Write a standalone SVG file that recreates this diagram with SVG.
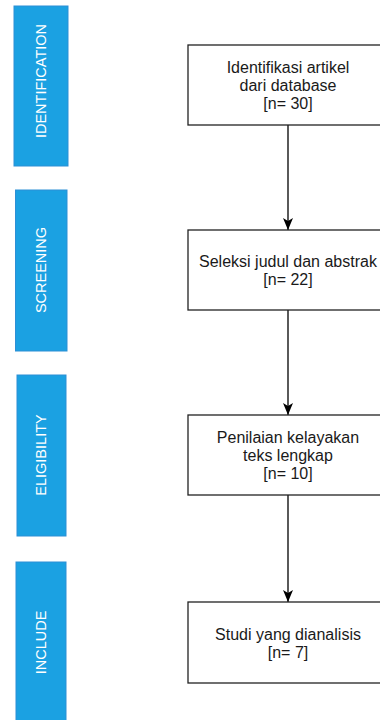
<svg xmlns="http://www.w3.org/2000/svg" width="380" height="720" viewBox="0 0 380 720">
<defs>
<style>
.stage{fill:#1ba1e2;stroke:#2d8fd5;stroke-width:1}
.stxt{fill:#ffffff;font-family:"Liberation Sans",Arial,sans-serif;font-size:14.5px;text-anchor:middle}
.box{fill:#ffffff;stroke:#222222;stroke-width:1.3}
.btxt{fill:#1a1a1a;font-family:"Liberation Sans",Arial,sans-serif;font-size:16px;text-anchor:middle}
.edge{stroke:#000000;stroke-width:1.3;fill:none}
</style>
<marker id="arr" viewBox="0 0 13 12" refX="12" refY="6" markerWidth="13" markerHeight="12" markerUnits="userSpaceOnUse" orient="auto">
<path d="M12,6 L0,1 L3,6 L0,11 Z" fill="#000000"/>
</marker>
</defs>
<rect width="380" height="720" fill="#ffffff"/>
<g id="stage-identification">
<rect class="stage" x="14" y="6" width="54" height="160"/>
<text class="stxt" transform="translate(46,81) rotate(-90)">IDENTIFICATION</text>
</g>
<g id="stage-screening">
<rect class="stage" x="15.5" y="190" width="51.5" height="161"/>
<text class="stxt" transform="translate(46,270) rotate(-90)">SCREENING</text>
</g>
<g id="stage-eligibility">
<rect class="stage" x="17" y="375" width="49" height="161"/>
<text class="stxt" transform="translate(46,455) rotate(-90)">ELIGIBILITY</text>
</g>
<g id="stage-include">
<rect class="stage" x="16" y="562" width="50" height="162"/>
<text class="stxt" transform="translate(46,642.5) rotate(-90)">INCLUDE</text>
</g>
<g id="connectors">
<line class="edge" x1="288" y1="125" x2="288" y2="230" marker-end="url(#arr)"/>
<line class="edge" x1="288" y1="310" x2="288" y2="415" marker-end="url(#arr)"/>
<line class="edge" x1="288" y1="495" x2="288" y2="602" marker-end="url(#arr)"/>
</g>
<g id="node-identifikasi">
<rect class="box" x="188" y="45" width="200" height="80"/>
<text class="btxt" x="288" y="72.7">Identifikasi artikel</text>
<text class="btxt" x="288" y="90.7">dari database</text>
<text class="btxt" x="288" y="108.7">[n= 30]</text>
</g>
<g id="node-seleksi">
<rect class="box" x="188" y="230" width="200" height="80"/>
<text class="btxt" x="288" y="266.7">Seleksi judul dan abstrak</text>
<text class="btxt" x="288" y="284.7">[n= 22]</text>
</g>
<g id="node-penilaian">
<rect class="box" x="188" y="415" width="200" height="80"/>
<text class="btxt" x="288" y="442.7">Penilaian kelayakan</text>
<text class="btxt" x="288" y="460.7">teks lengkap</text>
<text class="btxt" x="288" y="478.7">[n= 10]</text>
</g>
<g id="node-studi">
<rect class="box" x="188" y="602" width="200" height="81"/>
<text class="btxt" x="288" y="639.5">Studi yang dianalisis</text>
<text class="btxt" x="288" y="657.5">[n= 7]</text>
</g>
</svg>
